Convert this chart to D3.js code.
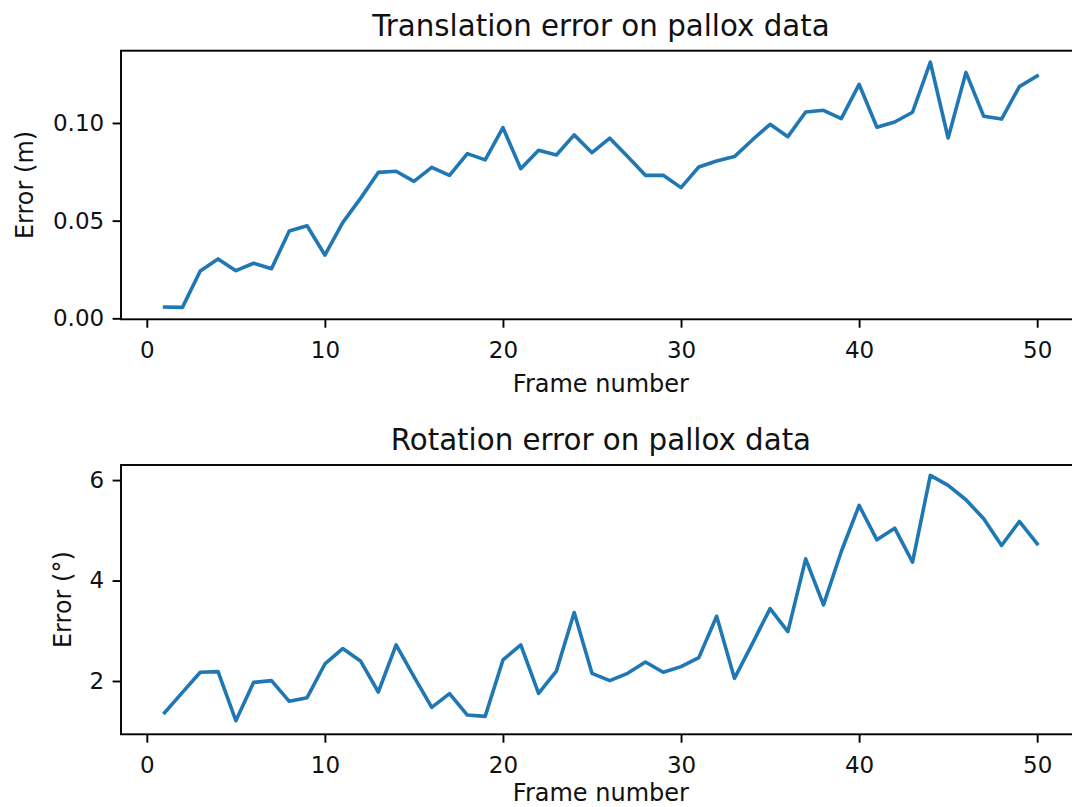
<!DOCTYPE html>
<html>
<head>
<meta charset="utf-8">
<script src="https://cdn.jsdelivr.net/npm/d3@7"></script>
<style>
  body { margin: 0; background: #fff; }
  svg { display: block; font-family: "DejaVu Sans", sans-serif; }
</style>
</head>
<body>
<div id="graph"></div>
<script>
// frame numbers 1..50
const frames = [1,2,3,4,5,6,7,8,9,10,11,12,13,14,15,16,17,18,19,20,21,22,23,24,25,
  26,27,28,29,30,31,32,33,34,35,36,37,38,39,40,41,42,43,44,45,46,47,48,49,50];

// translation error (m)
const transError = [0.0058,0.0056,0.0242,0.0304,0.0244,0.0282,0.0254,0.0447,0.0474,0.0324,
  0.0490,0.0614,0.0747,0.0753,0.0701,0.0773,0.0732,0.0843,0.0811,0.0976,
  0.0766,0.0860,0.0836,0.0939,0.0848,0.0922,0.0828,0.0732,0.0732,0.0669,
  0.0775,0.0805,0.0828,0.0913,0.0993,0.0930,0.1056,0.1065,0.1022,0.1198,
  0.0978,0.1005,0.1055,0.1311,0.0923,0.1259,0.1034,0.1020,0.1186,0.1241];

// rotation error (degrees)
const rotError = [1.369,1.774,2.173,2.186,1.209,1.973,2.007,1.595,1.668,2.339,
  2.645,2.399,1.781,2.718,2.086,1.475,1.748,1.322,1.296,2.419,
  2.718,1.754,2.199,3.362,2.153,2.007,2.153,2.379,2.173,2.286,
  2.465,3.289,2.053,2.738,3.442,2.983,4.432,3.515,4.578,5.495,
  4.811,5.043,4.365,6.093,5.894,5.608,5.229,4.698,5.176,4.731];

const xTicks = [0, 10, 20, 30, 40, 50];
const transTicks = [0, 0.05, 0.10];
const rotTicks = [2, 4, 6];

const width = 1072, height = 807;
const blue = "#1f77b4";

const svg = d3.select("div#graph")
  .append("svg")
  .attr("width", width)
  .attr("height", height);

// one subplot: box, ticks, labels, line
function drawPanel(opts) {
  const xScale = d3.scaleLinear().domain([-1.45, 52.45]).range([121, 1080.8]);
  const yScale = d3.scaleLinear().domain(opts.yDomain).range([opts.bottom, opts.top]);

  const g = svg.append("g");

  // line
  const line = d3.line()
    .x((d, i) => xScale(frames[i]))
    .y(d => yScale(d));

  g.append("path")
    .datum(opts.values)
    .attr("fill", "none")
    .attr("stroke", blue)
    .attr("stroke-width", 3.6)
    .attr("stroke-linejoin", "round")
    .attr("stroke-linecap", "square")
    .attr("d", line);

  // axes
  const xAxis = g.append("g")
    .attr("transform", "translate(0," + opts.bottom + ")")
    .call(d3.axisBottom(xScale).tickValues(xTicks).tickSize(8.4).tickPadding(8.4).tickFormat(d3.format("d")));

  const yAxis = g.append("g")
    .attr("transform", "translate(121,0)")
    .call(d3.axisLeft(yScale).tickValues(opts.ticks).tickSize(8.4).tickPadding(8.4).tickFormat(opts.fmt));

  [xAxis, yAxis].forEach(ax => {
    ax.select(".domain").remove();
    ax.selectAll(".tick line").attr("stroke", "#000").attr("stroke-width", 1.9);
    ax.selectAll(".tick text")
      .attr("fill", "#111")
      .style("font-family", "DejaVu Sans")
      .style("font-size", "23px");
  });
  xAxis.selectAll(".tick text").attr("dy", null).attr("y", 38.4);

  // frame
  g.append("rect")
    .attr("x", 121)
    .attr("y", opts.top)
    .attr("width", 1080.8 - 121)
    .attr("height", opts.bottom - opts.top)
    .attr("fill", "none")
    .attr("stroke", "#000")
    .attr("stroke-width", 1.9);

  // title
  g.append("text")
    .attr("x", (121 + 1080.8) / 2)
    .attr("y", opts.top - 15)
    .attr("text-anchor", "middle")
    .attr("fill", "#111")
    .style("font-size", "29.3px")
    .text(opts.title);

  // x label
  g.append("text")
    .attr("x", (121 + 1080.8) / 2)
    .attr("y", opts.bottom + opts.xlabelOffset)
    .attr("text-anchor", "middle")
    .attr("fill", "#111")
    .style("font-size", "24px")
    .text("Frame number");

  // y label
  g.append("text")
    .attr("transform", "translate(" + opts.ylabelX + "," + ((opts.top + opts.bottom) / 2) + ") rotate(-90)")
    .attr("text-anchor", "middle")
    .attr("fill", "#111")
    .style("font-size", "24px")
    .text(opts.ylabel);
}

drawPanel({
  top: 50.7, bottom: 319.3,
  yDomain: [-0.0005, 0.1370],
  ticks: transTicks,
  fmt: d3.format(".2f"),
  values: transError,
  title: "Translation error on pallox data",
  ylabel: "Error (m)",
  ylabelX: 33.3,
  xlabelOffset: 73
});

drawPanel({
  top: 465, bottom: 734.3,
  yDomain: [0.939, 6.30],
  ticks: rotTicks,
  fmt: d3.format("d"),
  values: rotError,
  title: "Rotation error on pallox data",
  ylabel: "Error (°)",
  ylabelX: 70.7,
  xlabelOffset: 66.3
});
</script>
</body>
</html>
